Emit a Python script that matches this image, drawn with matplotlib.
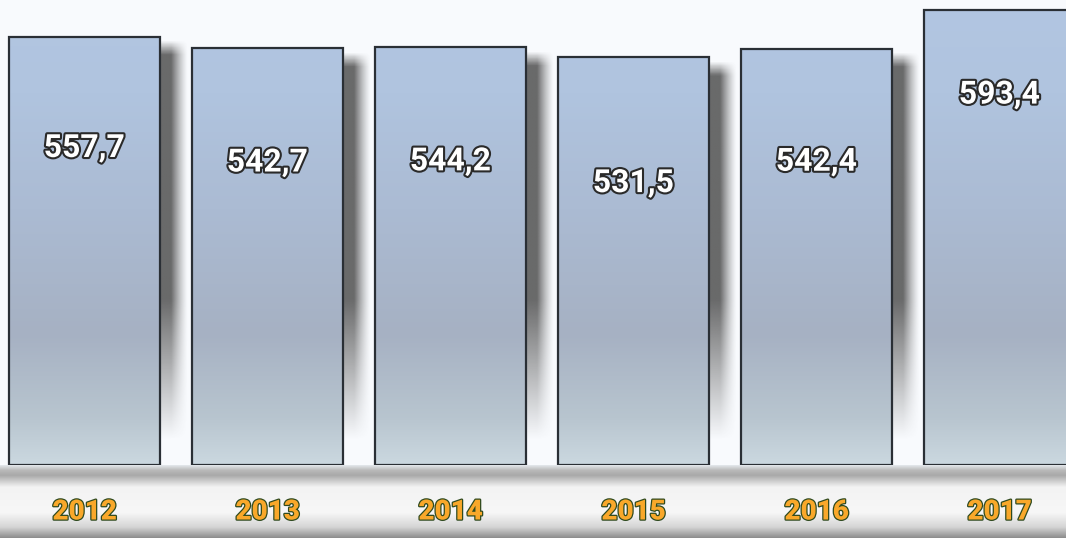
import numpy as np
import matplotlib
matplotlib.use('Agg')
import matplotlib.pyplot as plt
import matplotlib.patheffects as pe
from matplotlib.colors import LinearSegmentedColormap, to_rgb

plt.rcParams['font.family'] = ['Roboto', 'DejaVu Sans']

years = ['2012', '2013', '2014', '2015', '2016', '2017']
values = [557.7, 542.7, 544.2, 531.5, 542.4, 593.4]
labels = ['557,7', '542,7', '544,2', '531,5', '542,4', '593,4']

W, H = 1066, 538
fig = plt.figure(figsize=(W / 100, H / 100), dpi=100)
ax = fig.add_axes([0, 0, 1, 1])
fig.patch.set_facecolor('#f8fafd')
ax.set_facecolor('#f8fafd')

# pixel -> data scales
px_x = 1 / 183.0
px_y = 1.303
x0 = -84.5 * px_x
ax.set_xlim(x0, x0 + W * px_x)
ax.set_ylim(-(H - 465) * px_y, 465 * px_y)
ax.axis('off')

x = np.arange(len(years))
bars = ax.bar(x, values, width=151 * px_x, color='none', edgecolor='#2a2f35',
              linewidth=1.6, zorder=3)

# vertical gradient inside bars
cmap = LinearSegmentedColormap.from_list('bar', [
    (0.0, '#cbd8e0'), (0.1, '#b8c5cf'), (0.28, '#a6b1c3'),
    (0.55, '#abbbd3'), (0.8, '#b0c4df'), (1.0, '#b2c6e2')])
grad = np.linspace(0, 1, 256).reshape(-1, 1)
ymax = ax.get_ylim()[1]
for b in bars:
    im = ax.imshow(grad, cmap=cmap, aspect='auto', origin='lower',
                   extent=(b.get_x(), b.get_x() + b.get_width(), 0, ymax),
                   zorder=2)
    im.set_clip_path(b)

# soft shadow to the right of each bar
sh_w = 28 * px_x
hx = np.linspace(0, 1, 60)
fx = np.clip((1 - hx) / 0.6, 0, 1) ** 1.3
for b in bars:
    top = b.get_height()
    x1 = b.get_x() + b.get_width()
    hy = np.linspace(0, top - 4 * px_y, 300)
    fy = np.clip((hy - 25 * px_y) / (140 * px_y), 0, 1)
    fy = fy * np.clip((top - 4 * px_y - hy) / (14 * px_y), 0, 1)
    alpha = 0.82 * np.outer(fy, fx)
    rgba = np.zeros((len(hy), len(hx), 4))
    rgba[..., :3] = to_rgb('#4a4a4a')
    rgba[..., 3] = alpha
    ax.imshow(rgba, aspect='auto', origin='lower',
              extent=(x1, x1 + sh_w, 0, top - 4 * px_y), zorder=1)

# bottom band
band_cmap = LinearSegmentedColormap.from_list('band', [
    (0.0, '#8c8c8c'), (0.15, '#d5d5d5'), (0.35, '#f7f7f7'), (0.7, '#f3f3f3'),
    (0.86, '#a9a9a9'), (0.93, '#b9b9b9'), (1.0, '#e4e8ec')])
ax.imshow(grad, cmap=band_cmap, aspect='auto', origin='lower',
          extent=(x0, x0 + W * px_x, ax.get_ylim()[0], 0), zorder=4)

# value labels (drop below bar top, in pixels)
drops = [111, 114, 114, 126, 113, 85]
for b, lab, d in zip(bars, labels, drops):
    ax.text(b.get_x() + b.get_width() / 2, b.get_height() - d * px_y, lab,
            ha='center', va='center', fontsize=23, fontweight='bold',
            color='white', zorder=6,
            path_effects=[pe.withStroke(linewidth=3, foreground='#2a2a2a')])

# year labels
for xi, yr in zip(x, years):
    ax.text(xi, -47 * px_y, yr, ha='center', va='center', fontsize=20,
            fontweight='black', color='#f9a82a', zorder=6,
            path_effects=[pe.withStroke(linewidth=1.8, foreground='#2f4a1f')])

fig.savefig('out.png', dpi=100)
